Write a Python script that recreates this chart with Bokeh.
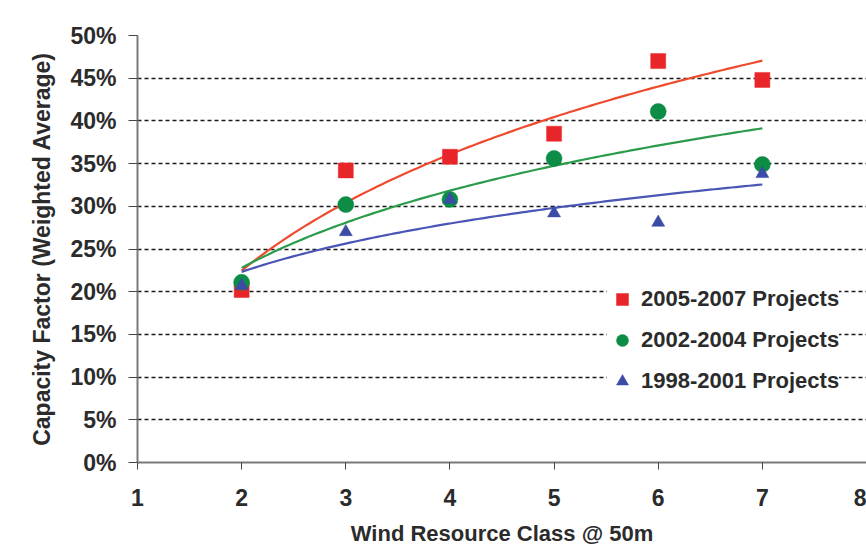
import numpy as np
from bokeh.plotting import figure
from bokeh.models import (ColumnDataSource, Legend, LegendItem, FixedTicker,
                          NumeralTickFormatter, Range1d)
from bokeh.embed import file_html
from bokeh.resources import INLINE

# ---- data ----
wind_class = [2, 3, 4, 5, 6, 7]
cf_2005_2007 = [0.202, 0.342, 0.358, 0.385, 0.470, 0.448]
cf_2002_2004 = [0.211, 0.302, 0.308, 0.356, 0.411, 0.349]
cf_1998_2001 = [0.207, 0.270, 0.308, 0.292, 0.281, 0.338]
series_labels = ["2005-2007 Projects", "2002-2004 Projects", "1998-2001 Projects"]
x_ticks = [1, 2, 3, 4, 5, 6, 7, 8]
y_ticks = [0.0, 0.05, 0.10, 0.15, 0.20, 0.25, 0.30, 0.35, 0.40, 0.45, 0.50]

marker_colors = ["#E8262A", "#0C8C44", "#3B4BA6"]
line_colors = ["#EE4A2E", "#2C9C4C", "#4A55B6"]
markers = ["square", "circle", "triangle"]
marker_sizes = [15, 16, 13]

FONT = "Liberation Sans"
TXT = "#2b2b2b"

p = figure(width=866, height=545, frame_width=729, frame_height=427,
           min_border_left=137, min_border_right=0, min_border_top=35,
           min_border_bottom=83, output_backend="svg", toolbar_location=None,
           x_range=Range1d(1, 8), y_range=Range1d(0, 0.5))
p.outline_line_color = None
p.background_fill_color = "white"
p.border_fill_color = "white"

# logarithmic trend lines (least-squares fit of y = a + b ln x, as the spreadsheet did)
xs_fit = np.linspace(min(wind_class), max(wind_class), 120)
series = [cf_2005_2007, cf_2002_2004, cf_1998_2001]
for ys, lc in zip(series, line_colors):
    b, a = np.polyfit(np.log(wind_class), ys, 1)
    p.line(xs_fit, a + b * np.log(xs_fit), line_color=lc, line_width=2.2)

items = []
for ys, mc, mk, ms, lab in zip(series, marker_colors, markers, marker_sizes, series_labels):
    src = ColumnDataSource(dict(x=wind_class, y=ys))
    r = p.scatter("x", "y", source=src, marker=mk, size=ms, fill_color=mc,
                  line_color=mc, line_width=0.5)
    items.append(LegendItem(label=lab, renderers=[r]))

# axes
p.xaxis.ticker = FixedTicker(ticks=x_ticks)
p.yaxis.ticker = FixedTicker(ticks=y_ticks)
p.yaxis.formatter = NumeralTickFormatter(format="0%")
for ax in (p.xaxis[0], p.yaxis[0]):
    ax.major_label_text_font = FONT
    ax.major_label_text_font_style = "bold"
    ax.major_label_text_font_size = "23px"
    ax.major_label_text_color = TXT
    ax.axis_label_text_font = FONT
    ax.axis_label_text_font_style = "bold"
    ax.axis_label_text_font_size = "22px"
    ax.axis_label_text_color = TXT
    ax.axis_line_color = "#7a7a7a"
    ax.axis_line_width = 2
    ax.major_tick_line_color = "#444444"
    ax.major_tick_in = 0
    ax.minor_tick_line_color = None
p.yaxis.axis_label_text_font_size = "23px"
p.xaxis.major_tick_out = 7
p.yaxis.major_tick_out = 9
p.xaxis.major_label_standoff = 19
p.yaxis.major_label_standoff = 12
p.xaxis.axis_label = "Wind Resource Class @ 50m"
p.yaxis.axis_label = "Capacity Factor (Weighted Average)"
p.xaxis.axis_label_standoff = 12
p.yaxis.axis_label_standoff = 12

p.xgrid.grid_line_color = None
p.ygrid.grid_line_color = "#1a1a1a"
p.ygrid.grid_line_dash = "4 3"
p.ygrid.grid_line_width = 1.3

legend = Legend(items=items, location=(470, 64), orientation="vertical",
                label_text_font=FONT, label_text_font_style="bold",
                label_text_font_size="22px", label_text_color=TXT,
                glyph_width=30, glyph_height=34, label_standoff=4,
                spacing=7, padding=5, margin=0,
                background_fill_color="white", background_fill_alpha=1.0,
                border_line_color=None)
p.add_layout(legend, "center")

open("out.html", "w").write(file_html(p, INLINE))
